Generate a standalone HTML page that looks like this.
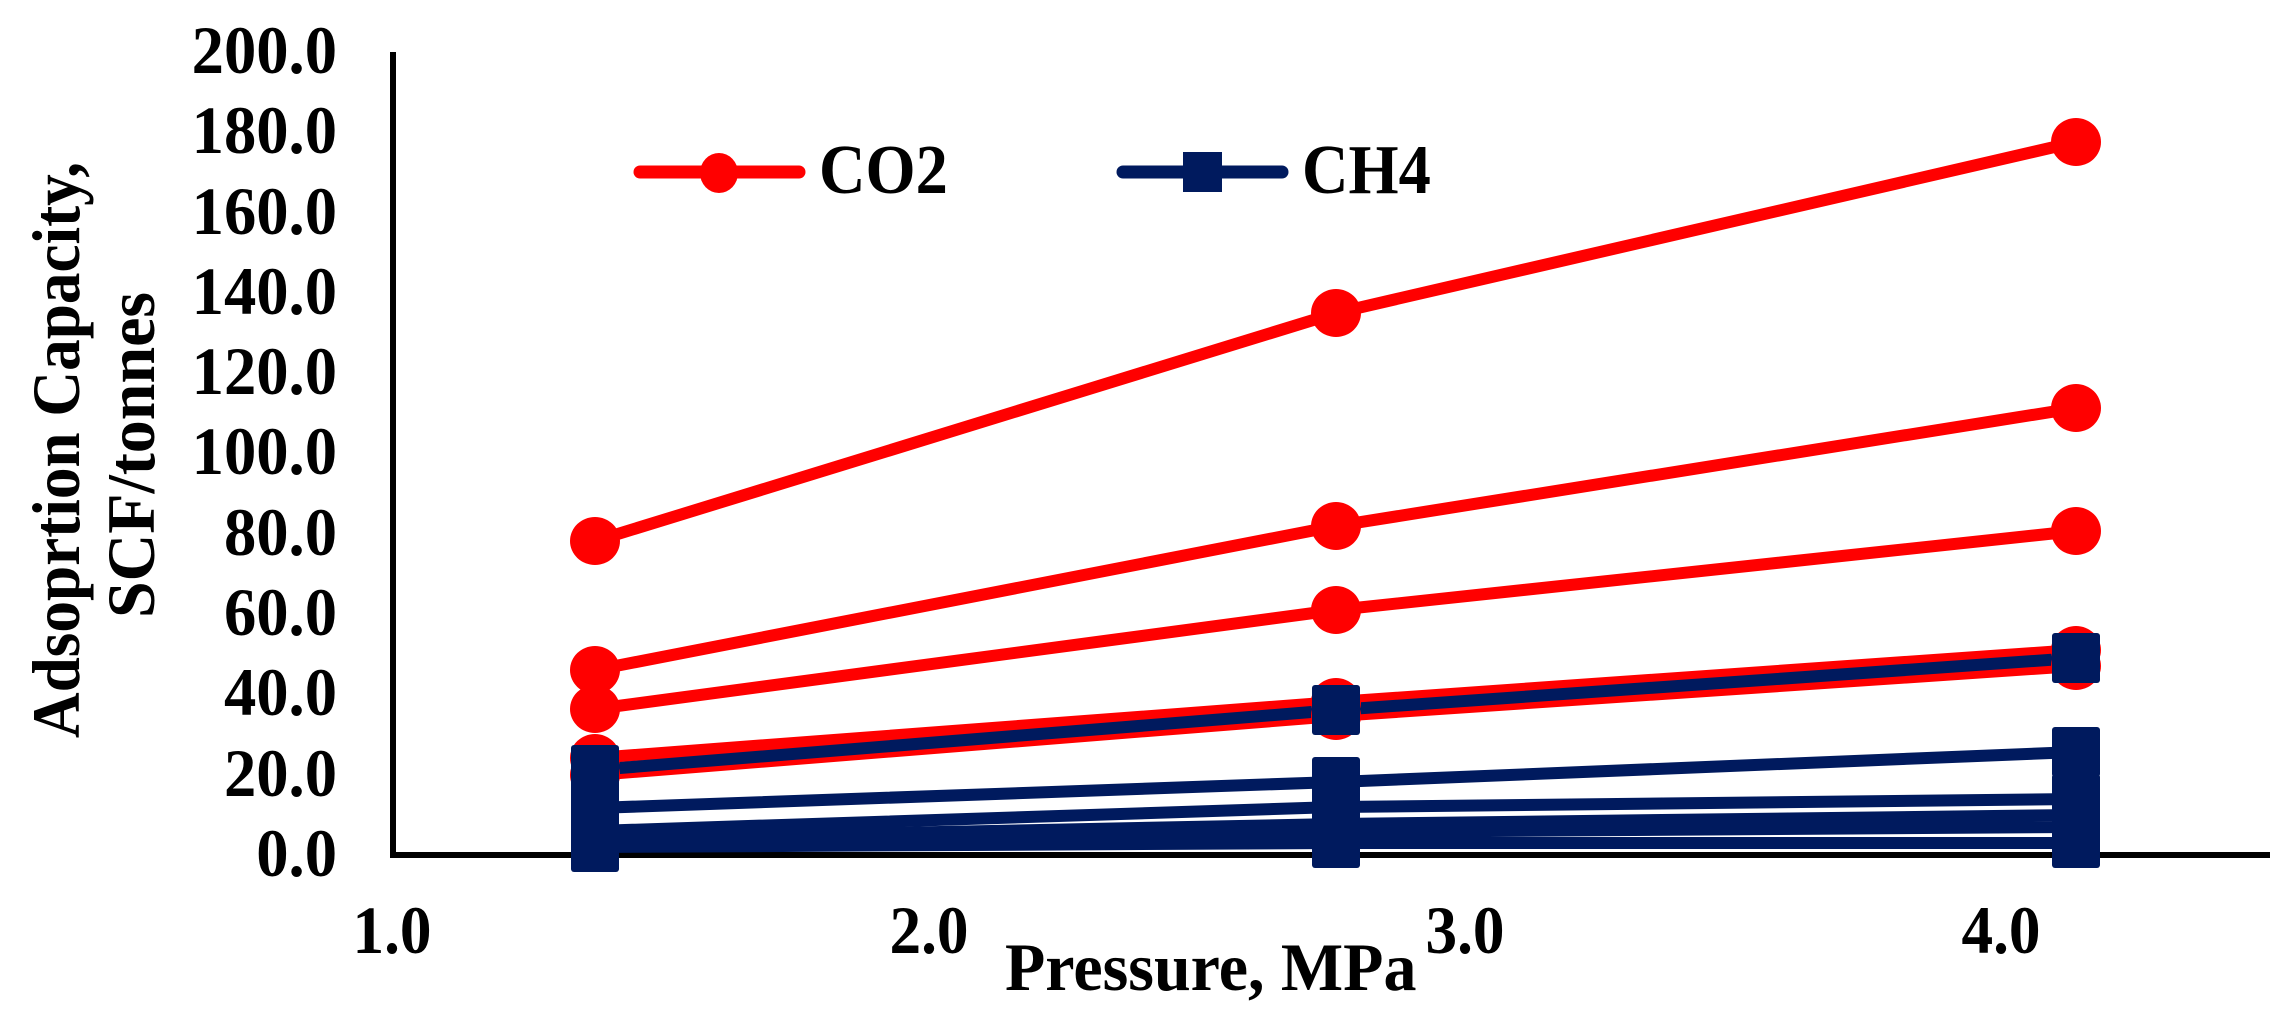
<!DOCTYPE html>
<html><head><meta charset="utf-8"><style>
html,body{margin:0;padding:0;background:#fff}
svg{display:block}
text{font-family:"Liberation Serif",serif;fill:#000}
</style></head><body>
<svg width="2296" height="1022" viewBox="0 0 2296 1022" xmlns="http://www.w3.org/2000/svg">
<defs>
<g id="c"><ellipse cx="0" cy="0" rx="25" ry="24" fill="#ff0000"/></g>
<g id="s"><rect x="-24" y="-25" width="48" height="50" rx="3" fill="#001a5e"/></g>
</defs>
<line x1="393" y1="52" x2="393" y2="857" stroke="#000" stroke-width="6"/>
<line x1="390" y1="855" x2="2270" y2="855" stroke="#000" stroke-width="6"/>
<g font-weight="bold" font-size="68" text-anchor="end">
<text transform="translate(337,73) scale(0.95,1)">200.0</text>
<text transform="translate(337,153) scale(0.95,1)">180.0</text>
<text transform="translate(337,234) scale(0.95,1)">160.0</text>
<text transform="translate(337,314) scale(0.95,1)">140.0</text>
<text transform="translate(337,394) scale(0.95,1)">120.0</text>
<text transform="translate(337,474) scale(0.95,1)">100.0</text>
<text transform="translate(337,555) scale(0.95,1)">80.0</text>
<text transform="translate(337,635) scale(0.95,1)">60.0</text>
<text transform="translate(337,715) scale(0.95,1)">40.0</text>
<text transform="translate(337,796) scale(0.95,1)">20.0</text>
<text transform="translate(337,876) scale(0.95,1)">0.0</text>
</g>
<g font-weight="bold" font-size="68" text-anchor="middle">
<text transform="translate(392,953) scale(0.93,1)">1.0</text>
<text transform="translate(929,953) scale(0.93,1)">2.0</text>
<text transform="translate(1465,953) scale(0.93,1)">3.0</text>
<text transform="translate(2001,953) scale(0.93,1)">4.0</text>
</g>
<text transform="translate(1005,990) scale(0.97,1)" font-weight="bold" font-size="68">Pressure, MPa</text>
<g font-weight="bold" font-size="68" text-anchor="middle">
<text transform="translate(79,450) rotate(-90) scale(0.93,1)">Adsoprtion Capacity,</text>
<text transform="translate(154,455) rotate(-90) scale(0.97,1)">SCF/tonnes</text>
</g>
<g stroke="#001a5e" stroke-width="12" fill="none">
<polyline points="595,847 1336,843 2076,843"/>
<polyline points="595,843 1336,832 2076,827"/>
<polyline points="595,839 1336,824 2076,815"/>
<polyline points="595,831 1336,807 2076,799"/>
<polyline points="595,808 1336,782 2076,752"/>
</g>
<g stroke="#ff0000" stroke-width="12" fill="none">
<polyline points="595,541 1336,313 2076,142"/>
<polyline points="595,670 1336,526 2076,408"/>
<polyline points="595,709 1336,610 2076,531"/>
<polyline points="595,758 1336,702 2076,650"/>
<polyline points="595,775 1336,716 2076,666"/>
</g>
<g stroke="#001a5e" stroke-width="12" fill="none">
<polyline points="595,770 1336,710 2076,658"/>
</g>
<use href="#c" x="595" y="541"/><use href="#c" x="1336" y="313"/><use href="#c" x="2076" y="142"/>
<use href="#c" x="595" y="670"/><use href="#c" x="1336" y="526"/><use href="#c" x="2076" y="408"/>
<use href="#c" x="595" y="709"/><use href="#c" x="1336" y="610"/><use href="#c" x="2076" y="531"/>
<use href="#c" x="595" y="758"/><use href="#c" x="1336" y="702"/><use href="#c" x="2076" y="650"/>
<use href="#c" x="595" y="775"/><use href="#c" x="1336" y="716"/><use href="#c" x="2076" y="666"/>
<use href="#s" x="595" y="770"/><use href="#s" x="1336" y="710"/><use href="#s" x="2076" y="658"/>
<use href="#s" x="595" y="808"/><use href="#s" x="1336" y="782"/><use href="#s" x="2076" y="752"/>
<use href="#s" x="595" y="831"/><use href="#s" x="1336" y="807"/><use href="#s" x="2076" y="799"/>
<use href="#s" x="595" y="839"/><use href="#s" x="1336" y="824"/><use href="#s" x="2076" y="815"/>
<use href="#s" x="595" y="843"/><use href="#s" x="1336" y="832"/><use href="#s" x="2076" y="827"/>
<use href="#s" x="595" y="847"/><use href="#s" x="1336" y="843"/><use href="#s" x="2076" y="843"/>
<line x1="640" y1="172" x2="799" y2="172" stroke="#ff0000" stroke-width="13" stroke-linecap="round"/>
<ellipse cx="719" cy="173" rx="19" ry="20" fill="#ff0000"/>
<text transform="translate(819,193) scale(0.92,1)" font-weight="bold" font-size="70">CO2</text>
<line x1="1123" y1="172" x2="1282" y2="172" stroke="#001a5e" stroke-width="13" stroke-linecap="round"/>
<rect x="1183" y="152" width="39" height="40" fill="#001a5e"/>
<text transform="translate(1302,193) scale(0.92,1)" font-weight="bold" font-size="70">CH4</text>
</svg>
</body></html>
